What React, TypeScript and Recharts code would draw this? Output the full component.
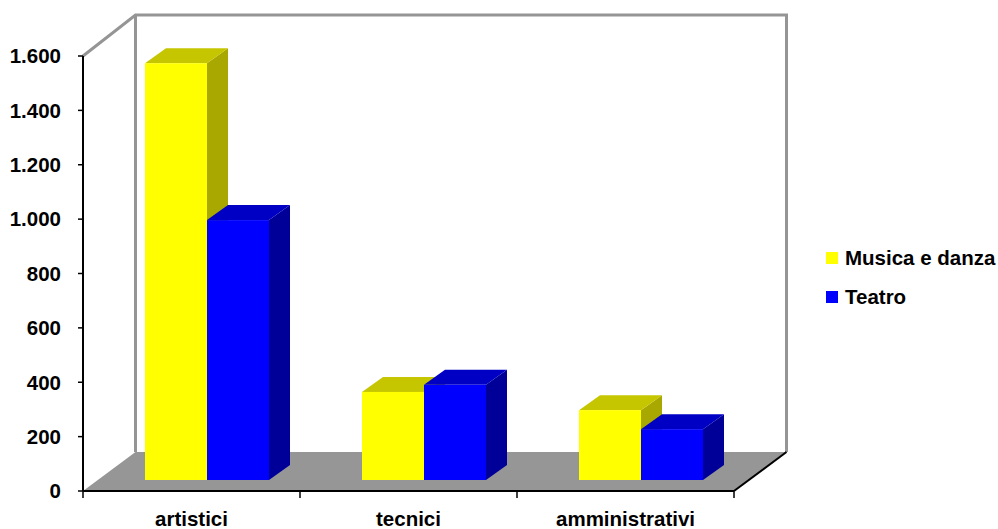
import { BarChart, Bar, XAxis, YAxis, Legend, Customized } from 'recharts';

const categories = ['artistici', 'tecnici', 'amministrativi'];
const musicaDanza = [1533, 324, 257];
const teatro = [956, 350, 187];
const yTicks = [0, 200, 400, 600, 800, 1000, 1200, 1400, 1600];

const data = categories.map((name, i) => ({ name, musica: musicaDanza[i], teatro: teatro[i] }));

const WIDTH = 998;
const HEIGHT = 529;
// front plane of the box
const LEFT = 83;
const RIGHT = 734;
const TOP = 56;
const BOTTOM = 491;
// how far back the walls sit
const WALL_DX = 52.5;
const WALL_TOP_DY = -41;
const WALL_BOTTOM_DY = -39;
// bars stand a little behind the front plane, and have their own depth
const BAR_SHIFT_X = 15;
const BAR_SHIFT_Y = -11;
const BAR_DX = 21;
const BAR_DY = -15;

const font = '"Liberation Sans", Arial, sans-serif';
const BAND = (RIGHT - LEFT) / categories.length;

function Box() {
  const backL = LEFT + WALL_DX;
  const backR = RIGHT + WALL_DX;
  const backT = TOP + WALL_TOP_DY;
  const backB = BOTTOM + WALL_BOTTOM_DY;
  return (
    <g>
      <polygon
        points={`${LEFT},${BOTTOM} ${backL},${backB} ${backR},${backB} ${RIGHT},${BOTTOM}`}
        fill="#969696"
      />
      <path
        d={`M${LEFT},${TOP} L${backL},${backT} L${backR},${backT} L${backR},${backB} M${backL},${backT} L${backL},${backB}`}
        fill="none"
        stroke="#959595"
        strokeWidth={3}
      />
      <line x1={RIGHT} y1={BOTTOM} x2={backR} y2={backB} stroke="#000" strokeWidth={2} />
    </g>
  );
}

function Bar3D(props: any, top: string, side: string) {
  const { x, y, width, height, fill } = props;
  const l = x + BAR_SHIFT_X;
  const r = l + width;
  const t = y + BAR_SHIFT_Y;
  const b = t + height;
  return (
    <g>
      <polygon
        points={`${r},${t} ${r + BAR_DX},${t + BAR_DY} ${r + BAR_DX},${b + BAR_DY} ${r},${b}`}
        fill={side}
      />
      <polygon
        points={`${l},${t} ${l + BAR_DX},${t + BAR_DY} ${r + BAR_DX},${t + BAR_DY} ${r},${t}`}
        fill={top}
      />
      <rect x={l} y={t} width={width} height={height} fill={fill} />
    </g>
  );
}

// category label plus the tick marks on the band edges
function CategoryTick({ x, y, payload, index }: any) {
  const edge = x - BAND / 2;
  return (
    <g>
      <line x1={edge} y1={BOTTOM} x2={edge} y2={BOTTOM + 7} stroke="#000" strokeWidth={1.5} />
      {index === categories.length - 1 && (
        <line x1={x + BAND / 2} y1={BOTTOM} x2={x + BAND / 2} y2={BOTTOM + 7} stroke="#000" strokeWidth={1.5} />
      )}
      <text
        x={x}
        y={y + 27}
        textAnchor="middle"
        fill="#000"
        fontFamily={font}
        fontWeight="bold"
        fontSize={20.5}
      >
        {payload.value}
      </text>
    </g>
  );
}

function LegendList({ payload }: any) {
  return (
    <div>
      {(payload ?? []).map((item: any) => (
        <div key={item.value} style={{ display: 'flex', alignItems: 'center', height: 39, whiteSpace: 'nowrap' }}>
          <span style={{ width: 12, height: 12, background: item.color, marginRight: 7 }} />
          <span style={{ color: '#000' }}>{item.value}</span>
        </div>
      ))}
    </div>
  );
}

const formatThousands = (v: number) => String(v).replace(/\B(?=(\d{3})+$)/g, '.');

export default function App() {
  return (
    <div style={{ position: 'absolute', left: 0, top: 0, background: '#fff' }}>
      <BarChart
        width={WIDTH}
        height={HEIGHT}
        data={data}
        barSize={62}
        barGap={0}
        margin={{ top: TOP, right: 92, bottom: 0, left: 0 }}
      >
        <Customized component={Box} />
        <XAxis
          dataKey="name"
          height={HEIGHT - BOTTOM}
          axisLine={{ stroke: '#000', strokeWidth: 2 }}
          tickLine={false}
          interval={0}
          tick={<CategoryTick />}
        />
        <YAxis
          width={LEFT}
          domain={[0, 1600]}
          ticks={yTicks}
          interval={0}
          tickFormatter={formatThousands}
          axisLine={{ stroke: '#000', strokeWidth: 2 }}
          tickLine={{ stroke: '#000', strokeWidth: 1.5 }}
          tickSize={5}
          tickMargin={17}
          tick={{ fill: '#000', fontFamily: font, fontWeight: 'bold', fontSize: 20.5 }}
        />
        <Legend
          layout="vertical"
          align="right"
          verticalAlign="top"
          content={<LegendList />}
          wrapperStyle={{
            left: 826,
            top: 238,
            width: 172,
            fontFamily: font,
            fontWeight: 'bold',
            fontSize: 20.5,
          }}
        />
        <Bar
          dataKey="musica"
          name="Musica e danza"
          fill="#ffff00"
          isAnimationActive={false}
          shape={(p: any) => Bar3D(p, '#c6c600', '#a8a800')}
        />
        <Bar
          dataKey="teatro"
          name="Teatro"
          fill="#0000ff"
          isAnimationActive={false}
          shape={(p: any) => Bar3D(p, '#0000c4', '#000098')}
        />
      </BarChart>
    </div>
  );
}
